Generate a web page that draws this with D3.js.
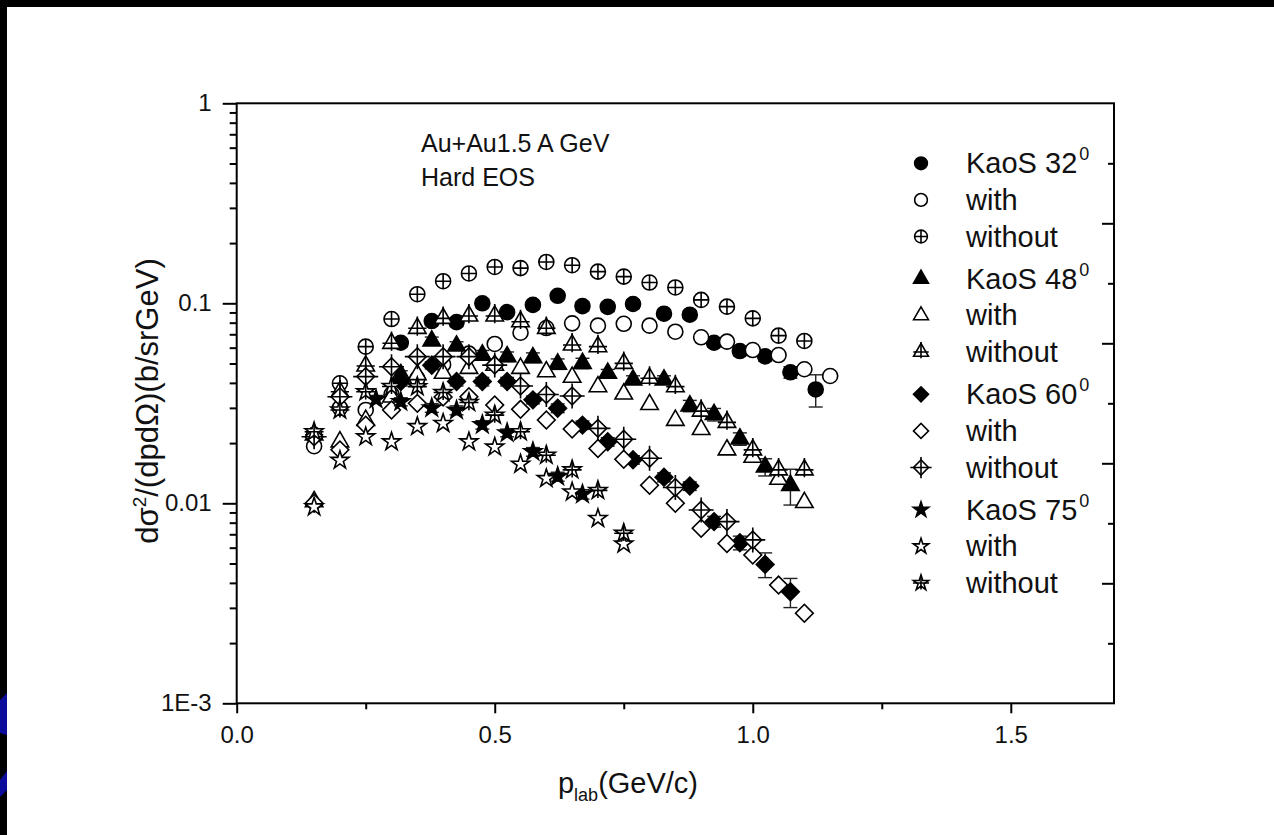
<!DOCTYPE html>
<html>
<head>
<meta charset="utf-8">
<script src="https://cdn.jsdelivr.net/npm/d3@7"></script>
<style>
  body { margin: 0; background: #000; }
  svg { display: block; }
  text { font-family: "Liberation Sans", Arial, sans-serif; fill: #111; }
</style>
</head>
<body>
<script>
// axis ticks
var xTicks = [0, 0.5, 1.0, 1.5];
var xMinorTicks = [0.25, 0.75, 1.25];
var yTicks = [0.001, 0.01, 0.1, 1];
var yTickLabels = ["1E-3", "0.01", "0.1", "1"];

// momentum values (GeV/c)
var pKaoS = [0.318, 0.378, 0.426, 0.476, 0.524, 0.574, 0.622, 0.670, 0.719, 0.768, 0.828, 0.878, 0.925, 0.975, 1.024, 1.073, 1.122];
var pKaoS75 = [0.27, 0.318, 0.378, 0.426, 0.476, 0.524, 0.574, 0.622, 0.670];
var pModel = [0.15, 0.20, 0.25, 0.30, 0.35, 0.40, 0.45, 0.50, 0.55, 0.60, 0.65, 0.70, 0.75, 0.80, 0.85, 0.90, 0.95, 1.00, 1.05, 1.10, 1.15];

// 32 deg
var kaos32 = [0.0635, 0.0815, 0.0805, 0.100, 0.0903, 0.0982, 0.109, 0.0968, 0.096, 0.0992, 0.0887, 0.0877, 0.0635, 0.0577, 0.0543, 0.0452, 0.0371];
var kaos32Err = [0.003, 0.004, 0.004, 0.005, 0.004, 0.005, 0.005, 0.005, 0.005, 0.005, 0.004, 0.004, 0.003, 0.003, 0.003, 0.003, 0.0068];
var with32 = [0.0193, 0.030, 0.0293, 0.035, 0.042, 0.0495, 0.056, 0.0626, 0.0713, 0.0752, 0.0794, 0.0773, 0.079, 0.0773, 0.0721, 0.0676, 0.0643, 0.0584, 0.0551, 0.0468, 0.0433];
var without32 = [0.022, 0.0398, 0.0607, 0.0834, 0.111, 0.129, 0.141, 0.152, 0.150, 0.161, 0.155, 0.144, 0.136, 0.127, 0.120, 0.104, 0.0962, 0.0841, 0.0689, 0.0648];

// 48 deg
var kaos48 = [0.044, 0.0648, 0.0612, 0.0551, 0.0541, 0.0535, 0.0497, 0.0501, 0.0447, 0.0414, 0.0414, 0.0307, 0.0278, 0.021, 0.0152, 0.0123];
var kaos48Err = [0.002, 0.003, 0.003, 0.003, 0.003, 0.003, 0.003, 0.003, 0.002, 0.002, 0.002, 0.002, 0.002, 0.0015, 0.0015, 0.0025];
var with48 = [0.0102, 0.0203, 0.026, 0.034, 0.044, 0.0447, 0.0473, 0.049, 0.0473, 0.0455, 0.0427, 0.0383, 0.0352, 0.0312, 0.026, 0.0234, 0.0185, 0.017, 0.0132, 0.0101];
var without48 = [0.022, 0.0361, 0.0486, 0.0631, 0.075, 0.0841, 0.0864, 0.0864, 0.0809, 0.075, 0.0619, 0.0607, 0.0501, 0.0422, 0.0383, 0.0289, 0.0254, 0.0185, 0.0147, 0.0147];

// 60 deg
var kaos60 = [0.0406, 0.049, 0.0406, 0.0406, 0.0406, 0.0329, 0.0299, 0.0246, 0.0203, 0.0165, 0.0135, 0.0122, 0.0081, 0.00635, 0.00495, 0.00361];
var kaos60Err = [0.002, 0.002, 0.002, 0.002, 0.002, 0.0015, 0.0015, 0.0012, 0.001, 0.0008, 0.0007, 0.0006, 0.0005, 0.0005, 0.0007, 0.0006];
var with60 = [0.0100, 0.0185, 0.0246, 0.0293, 0.0316, 0.034, 0.0341, 0.031, 0.0295, 0.0261, 0.0235, 0.0188, 0.0166, 0.0123, 0.0100, 0.0075, 0.0063, 0.00551, 0.0039, 0.00282];
var without60 = [0.0215, 0.0341, 0.043, 0.0482, 0.0541, 0.0541, 0.0541, 0.0491, 0.0386, 0.035, 0.0344, 0.0237, 0.0209, 0.0168, 0.012, 0.00926, 0.0081, 0.00656];

// 75 deg
var kaos75 = [0.0331, 0.0322, 0.030, 0.0292, 0.0247, 0.0225, 0.0181, 0.0136, 0.0111];
var kaos75Err = [0.0015, 0.0015, 0.0015, 0.0015, 0.0012, 0.001, 0.0009, 0.0007, 0.0006];
var with75 = [0.0096, 0.0164, 0.0215, 0.0203, 0.0242, 0.0251, 0.0203, 0.0191, 0.0157, 0.0133, 0.0114, 0.0084, 0.00626];
var without75 = [0.0228, 0.0293, 0.0361, 0.0384, 0.0383, 0.0358, 0.0319, 0.0276, 0.0228, 0.0174, 0.0147, 0.0116, 0.00708];

var series = [
  {label: "KaoS 32", sup: "0", shape: "circle", style: "filled", p: pKaoS, v: kaos32, err: kaos32Err},
  {label: "with", shape: "circle", style: "open", p: pModel, v: with32},
  {label: "without", shape: "circle", style: "cross", p: pModel, v: without32},
  {label: "KaoS 48", sup: "0", shape: "triangle", style: "filled", p: pKaoS, v: kaos48, err: kaos48Err},
  {label: "with", shape: "triangle", style: "open", p: pModel, v: with48},
  {label: "without", shape: "triangle", style: "cross", p: pModel, v: without48},
  {label: "KaoS 60", sup: "0", shape: "diamond", style: "filled", p: pKaoS, v: kaos60, err: kaos60Err},
  {label: "with", shape: "diamond", style: "open", p: pModel, v: with60},
  {label: "without", shape: "diamond", style: "cross", p: pModel, v: without60},
  {label: "KaoS 75", sup: "0", shape: "star", style: "filled", p: pKaoS75, v: kaos75, err: kaos75Err},
  {label: "with", shape: "star", style: "open", p: pModel, v: with75},
  {label: "without", shape: "star", style: "cross", p: pModel, v: without75}
];

var width = 1274, height = 835;
// plot frame edges (not "top": that name is taken by window.top)
var x0 = 236.7, x1 = 1114, y0 = 103.3, y1 = 703.3;

var svg = d3.select("body").append("svg")
  .attr("width", width)
  .attr("height", height);

// slide background
svg.append("rect").attr("width", width).attr("height", height).attr("fill", "#000");
svg.append("rect").attr("x", 7).attr("y", 7).attr("width", width - 7).attr("height", height - 7).attr("fill", "#fff");
svg.append("polygon").attr("points", "0,700 7,693 7,735 0,733").attr("fill", "#0c0c9c");
svg.append("polygon").attr("points", "0,780 7,771 7,790 0,797").attr("fill", "#0c0c9c");

var x = d3.scaleLinear().domain([0, 1.7]).range([x0, x1]);
var y = d3.scaleLog().domain([1e-3, 1]).range([y1, y0]);
var yRight = d3.scaleLinear().domain([0, 1]).range([y1, y0]);

function styleAxis(g) {
  g.select(".domain").remove();
  g.selectAll(".tick line").attr("stroke", "#000").attr("stroke-width", 2);
  g.selectAll(".tick text").attr("fill", "#111")
    .style("font-family", "'Liberation Sans', Arial, sans-serif")
    .style("font-size", "24px");
}

// bottom axis
svg.append("g")
  .attr("transform", "translate(0," + y1 + ")")
  .call(d3.axisBottom(x).tickValues(xTicks).tickSize(10).tickPadding(13)
    .tickFormat(d3.format(".1f")))
  .call(styleAxis);
svg.append("g")
  .attr("transform", "translate(0," + y1 + ")")
  .call(d3.axisBottom(x).tickValues(xMinorTicks).tickSize(6).tickFormat(""))
  .call(styleAxis);

// left axis
svg.append("g")
  .attr("transform", "translate(" + x0 + ",0)")
  .call(d3.axisLeft(y).tickValues(yTicks).tickSize(14).tickPadding(11)
    .tickFormat(function(d, i) { return yTickLabels[i]; }))
  .call(styleAxis);
var yMinor = y.ticks().filter(function(d) {
  var l = Math.log10(d);
  return Math.abs(l - Math.round(l)) > 1e-6;
});
svg.append("g")
  .attr("transform", "translate(" + x0 + ",0)")
  .call(d3.axisLeft(y).tickValues(yMinor).tickSize(7).tickFormat(""))
  .call(styleAxis);

// right axis, ticks pointing inwards, no labels
svg.append("g")
  .attr("transform", "translate(" + x1 + ",0)")
  .call(d3.axisLeft(yRight).tickValues([0.2, 0.4, 0.6, 0.8]).tickSize(12).tickFormat(""))
  .call(styleAxis);
svg.append("g")
  .attr("transform", "translate(" + x1 + ",0)")
  .call(d3.axisLeft(yRight).tickValues([0.1, 0.3, 0.5, 0.7, 0.9]).tickSize(6).tickFormat(""))
  .call(styleAxis);

// marker shapes
function shapePath(shape, s) {
  if (shape === "circle") return d3.symbol(d3.symbolCircle, Math.PI * Math.pow(7.5 * s, 2))();
  if (shape === "triangle") return d3.symbol(d3.symbolTriangle, Math.sqrt(3) / 4 * Math.pow(17.5 * s, 2))();
  if (shape === "diamond") return d3.symbol(d3.symbolSquare, Math.pow(12.5 * s, 2))();
  return d3.symbol(d3.symbolStar, Math.pow(9.5 * s, 2) / 0.8908130915292852)();
}
function crossPath(shape, s) {
  var r;
  if (shape === "circle") { r = 7.5 * s; return "M" + (-r) + ",0H" + r + "M0," + (-r) + "V" + r; }
  if (shape === "triangle") {
    var a = 17.5 * s;
    return "M" + (-a * 0.52) + ",0H" + (a * 0.52) + "M0," + (-a * 0.68) + "V" + (a * 0.42);
  }
  if (shape === "diamond") {
    r = 12.5 * s / Math.SQRT2;
    // drawn inside the rotated group, so the cross follows the diagonals
    return "M" + (-r) + "," + (-r) + "L" + r + "," + r + "M" + r + "," + (-r) + "L" + (-r) + "," + r;
  }
  r = 9.5 * s;
  return "M" + (-r) + ",0H" + r + "M0," + (-r) + "V" + (r * 0.8);
}
function drawMarker(g, d, s) {
  var rot = d.shape === "diamond" ? "rotate(45)" : null;
  g.append("path")
    .attr("d", shapePath(d.shape, s))
    .attr("transform", rot)
    .attr("fill", d.style === "filled" ? "#000" : "#fff")
    .attr("stroke", "#000")
    .attr("stroke-width", 1.6);
  if (d.style === "cross") {
    g.append("path")
      .attr("d", crossPath(d.shape, s))
      .attr("transform", rot)
      .attr("fill", "none")
      .attr("stroke", "#000")
      .attr("stroke-width", 1.6);
  }
}

var plot = svg.append("g");
series.forEach(function(sr) {
  var pts = sr.v.map(function(v, i) { return {p: sr.p[i], v: v, e: sr.err ? sr.err[i] : 0}; });
  var g = plot.append("g");
  if (sr.err) {
    var eb = g.selectAll(".err").data(pts).enter().append("g").attr("class", "err")
      .attr("stroke", "#222").attr("stroke-width", 1.4);
    eb.append("line")
      .attr("x1", function(d) { return x(d.p); }).attr("x2", function(d) { return x(d.p); })
      .attr("y1", function(d) { return y(d.v + d.e); }).attr("y2", function(d) { return y(d.v - d.e); });
    eb.append("line")
      .attr("x1", function(d) { return x(d.p) - 7; }).attr("x2", function(d) { return x(d.p) + 7; })
      .attr("y1", function(d) { return y(d.v + d.e); }).attr("y2", function(d) { return y(d.v + d.e); });
    eb.append("line")
      .attr("x1", function(d) { return x(d.p) - 7; }).attr("x2", function(d) { return x(d.p) + 7; })
      .attr("y1", function(d) { return y(d.v - d.e); }).attr("y2", function(d) { return y(d.v - d.e); });
  }
  g.selectAll(".pt").data(pts).enter().append("g").attr("class", "pt")
    .attr("transform", function(d) { return "translate(" + x(d.p) + "," + y(d.v) + ")"; })
    .each(function() { drawMarker(d3.select(this), sr, 1); });
});

// frame
svg.append("rect")
  .attr("x", x0).attr("y", y0)
  .attr("width", x1 - x0).attr("height", y1 - y0)
  .attr("fill", "none").attr("stroke", "#000").attr("stroke-width", 2);

// annotation
svg.append("text").attr("x", 421).attr("y", 152).style("font-size", "25px").text("Au+Au1.5 A GeV");
svg.append("text").attr("x", 421).attr("y", 186).style("font-size", "25px").text("Hard EOS");

// legend
var legend = svg.append("g");
series.forEach(function(sr, i) {
  var grp = Math.floor(i / 3), row = i % 3;
  var base = 173.3 + grp * 115.5 + row * 36.6;
  var mg = legend.append("g").attr("transform", "translate(921," + (base - 10) + ")");
  drawMarker(mg, sr, 0.85);
  var t = legend.append("text").attr("x", 966).attr("y", base).style("font-size", "29px").text(sr.label);
  if (sr.sup) {
    t.append("tspan").attr("dx", 2).attr("dy", -13).style("font-size", "18px").text(sr.sup);
  }
});

// axis titles
var yl = svg.append("text")
  .attr("transform", "translate(158,401) rotate(-90)")
  .attr("text-anchor", "middle")
  .style("font-size", "31px");
yl.append("tspan").text("d\u03c3");
yl.append("tspan").attr("dy", -12).style("font-size", "19px").text("2");
yl.append("tspan").attr("dy", 12).text("/(dpd\u03a9)(b/srGeV)");

var xl = svg.append("text")
  .attr("x", 628).attr("y", 793)
  .attr("text-anchor", "middle")
  .style("font-size", "29px");
xl.append("tspan").text("p");
xl.append("tspan").attr("dy", 8).style("font-size", "18px").text("lab");
xl.append("tspan").attr("dy", -8).text("(GeV/c)");
</script>
</body>
</html>
